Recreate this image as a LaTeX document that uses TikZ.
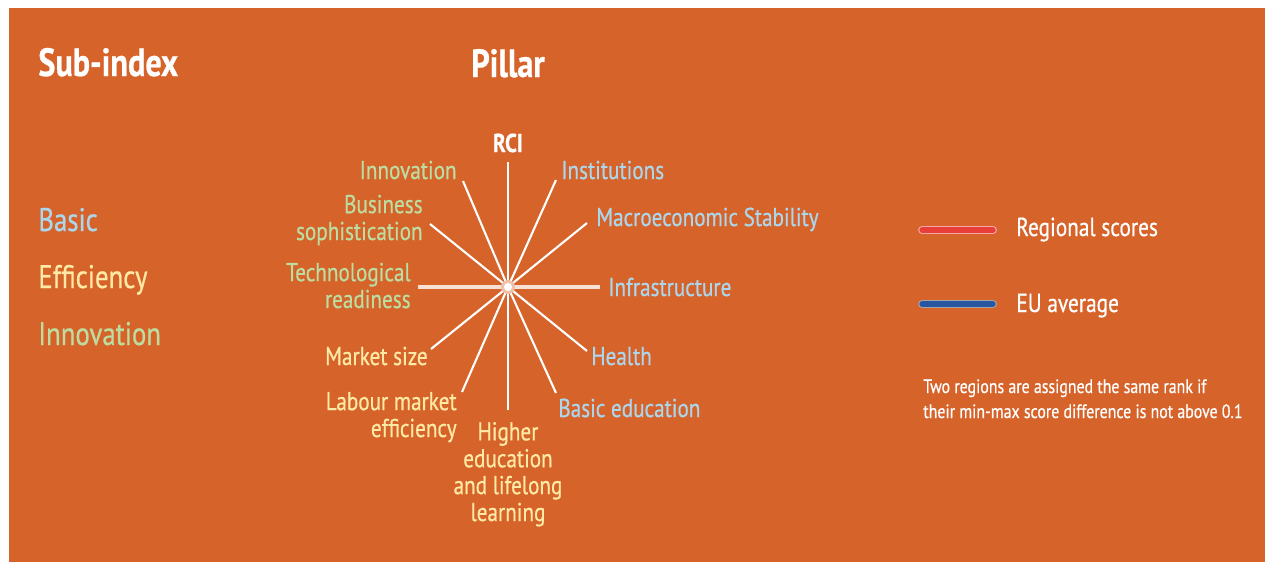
\documentclass[tikz,border=0pt]{standalone}
\usepackage{fontspec}
\setmainfont{PT Sans}[FakeStretch=0.82, FakeBold=0.6]
\definecolor{bg}{RGB}{214,99,42}
\definecolor{basicc}{RGB}{172,214,236}
\definecolor{effc}{RGB}{255,234,165}
\definecolor{innoc}{RGB}{188,220,160}
\definecolor{regred}{RGB}{232,62,58}
\definecolor{eublue}{RGB}{40,86,160}
\tikzset{
  lbl/.style={inner sep=0pt, font=\fontsize{14.7}{15.3}\selectfont},
  head/.style={inner sep=0pt, text=white, font=\fontsize{22.4}{24}\selectfont\bfseries},
  sub/.style={inner sep=0pt, anchor=base west, font=\fontsize{18.6}{20}\selectfont},
  spoke/.style={white, line width=1.2pt},
  hspoke/.style={white!80!bg, line width=2.8pt},
  legtxt/.style={inner sep=0pt, anchor=base west, text=white, font=\fontsize{14.8}{16}\selectfont},
  note/.style={inner sep=0pt, anchor=base west, text=white, font=\fontsize{11}{14}\selectfont}
}
\begin{document}
\begin{tikzpicture}[x=0.02cm,y=-0.02cm]
\useasboundingbox (0,0) rectangle (1265,562);
\fill[white] (0,0) rectangle (1265,562);
\fill[bg] (9,8) rectangle (1265,562);

% headings
\node[head, anchor=base west] (subidx) at (38,76) {Sub-index};
\node[head, anchor=base] (pillar) at (508,77) {Pillar};

% sub-index labels
\node[sub, text=basicc] (sbasic) at (38,231) {Basic};
\node[sub, text=effc] (seff) at (38,288) {Efficiency};
\node[sub, text=innoc] (sinno) at (38,345) {Innovation};

% star
\coordinate (c) at (508,287);
\coordinate (eRCI) at (508,162);
\coordinate (eInst) at (556,180);
\coordinate (eMacro) at (587,223);
\coordinate (eInfra) at (600,287);
\coordinate (eHealth) at (587,351);
\coordinate (eBasic) at (556,393);
\coordinate (eHigher) at (508,410);
\coordinate (eLabour) at (462,392);
\coordinate (eMarket) at (431,349);
\coordinate (eTech) at (418,287);
\coordinate (eBus) at (430,224);
\coordinate (eInno) at (463,181);

\draw[hspoke] (c) -- (eInfra);
\draw[hspoke] (c) -- (eTech);
\foreach \e in {eRCI,eInst,eMacro,eHealth,eBasic,eHigher,eLabour,eMarket,eBus,eInno}
  \draw[spoke] (c) -- (\e);
\fill[white!60!bg] (c) circle (7);
\fill[white] (c) circle (4);

% pillar labels
\node[inner sep=0pt, anchor=base, text=white, font=\fontsize{14.7}{15.3}\selectfont\bfseries] (rci) at (508,152) {RCI};
\node[lbl, anchor=base east, text=innoc] (linno) at (457,179) {Innovation};
\node[lbl, anchor=base west, text=basicc] (linst) at (561,179) {Institutions};
\node[lbl, anchor=base east, text=innoc, align=right] (lbus) at (423,240) {Business\\sophistication};
\node[lbl, anchor=base west, text=basicc] (lmacro) at (596,226) {Macroeconomic Stability};
\node[lbl, anchor=base east, text=innoc, align=right] (ltech) at (411,308) {Technological\\readiness};
\node[lbl, anchor=base west, text=basicc] (linfra) at (608,296) {Infrastructure};
\node[lbl, anchor=base east, text=effc] (lmarket) at (428,365) {Market size};
\node[lbl, anchor=base west, text=basicc] (lhealth) at (591,365) {Health};
\node[lbl, anchor=base east, text=effc, align=right] (llabour) at (457,437) {Labour market\\efficiency};
\node[lbl, anchor=base west, text=basicc] (lbasic) at (558,417) {Basic education};
\node[lbl, anchor=base, text=effc, align=center] (lhigher) at (508,521) {Higher\\education\\and lifelong\\learning};

% legend
\coordinate (r1) at (922,230);
\coordinate (r2) at (993,230);
\coordinate (b1) at (922,304);
\coordinate (b2) at (993,304);
\draw[line width=4.4pt, line cap=round, white!55!regred] (r1) -- (r2);
\draw[line width=3pt, line cap=round, regred] (r1) -- (r2);
\draw[line width=4.4pt, line cap=round, gray!70!white] (b1) -- (b2);
\draw[line width=3pt, line cap=round, eublue] (b1) -- (b2);
\node[legtxt] (lreg) at (1016,236) {Regional scores};
\node[legtxt] (leu) at (1016,312) {EU average};
\node[note] (note1) at (923,393) {Two regions are assigned the same rank if};
\node[note] (note2) at (923,418) {their min-max score difference is not above 0.1};
\end{tikzpicture}
\end{document}
